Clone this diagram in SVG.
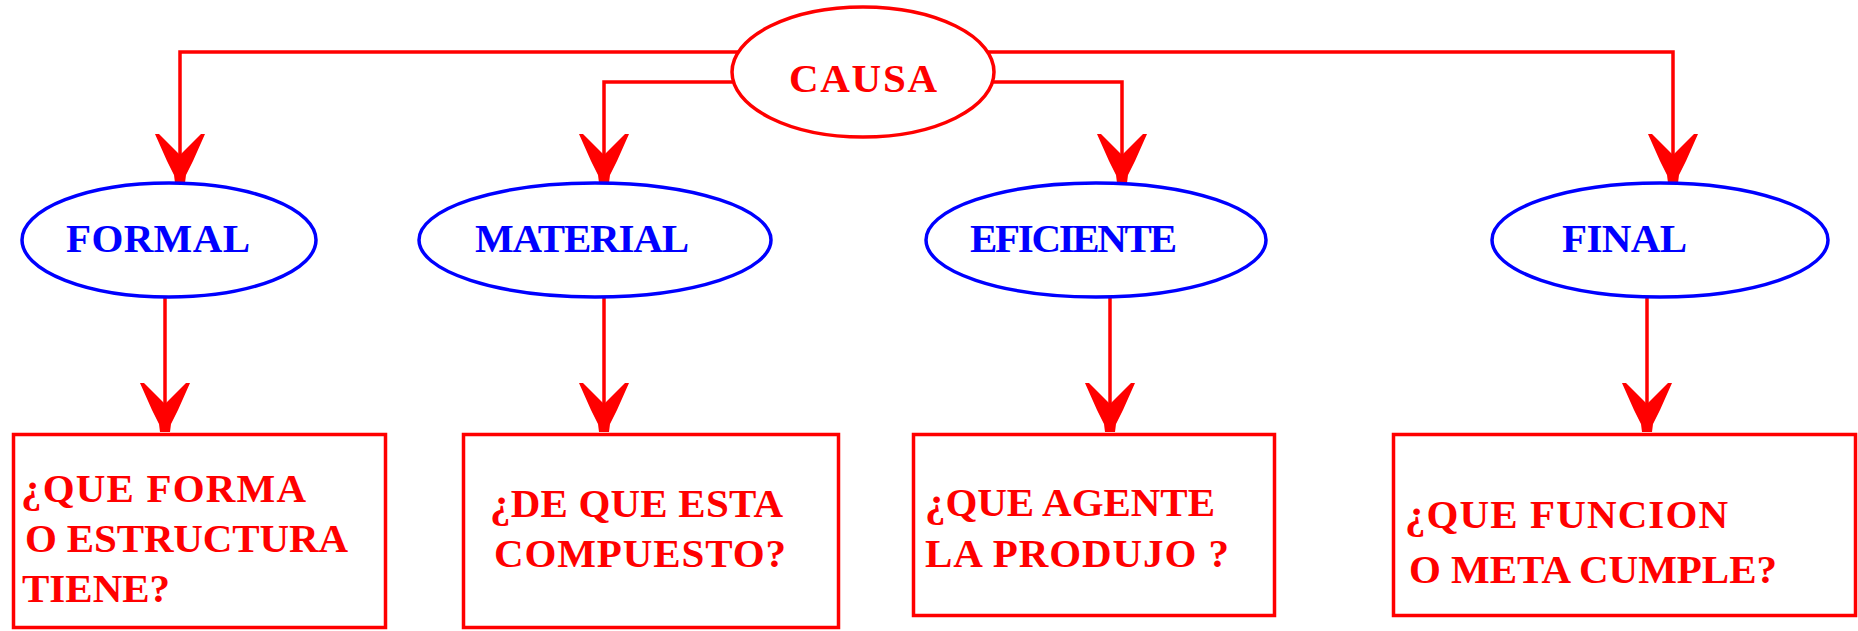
<svg xmlns="http://www.w3.org/2000/svg" xmlns:xlink="http://www.w3.org/1999/xlink" width="1858" height="631" viewBox="0 0 1858 631">
<style>
.bg{fill:#ffffff}
.conn{fill:none;stroke:#ff0000;stroke-width:3.5}
.ah{fill:#ff0000}
.ell-r{fill:#ffffff;stroke:#ff0000;stroke-width:3.5}
.ell-b{fill:#ffffff;stroke:#0000ff;stroke-width:3.5}
.box{fill:#ffffff;stroke:#ff0000;stroke-width:3.5}
.t{font-family:"Liberation Serif","Times New Roman",serif;font-weight:bold;font-size:41px}
.tr{fill:#ff0000}
.tb{fill:#0000ff}
</style>
<defs>
<path id="ah" d="M-25,-49 L-21,-49 L0,-28 L21,-49 L25,-49 L13,-22 L6,-8 L5,0 L-5,0 L-6,-8 L-13,-22 Z"/>
</defs>
<rect class="bg" x="0" y="0" width="1858" height="631"/>
<g id="connectors">
<path class="conn" d="M180,183 V52 H863"/>
<path class="conn" d="M1673,183 V52 H863"/>
<path class="conn" d="M604,183 V82 H863"/>
<path class="conn" d="M1122,183 V82 H863"/>
<path class="conn" d="M165,297 V432"/>
<path class="conn" d="M604,297 V432"/>
<path class="conn" d="M1110,297 V432"/>
<path class="conn" d="M1647,297 V432"/>
<use class="ah" xlink:href="#ah" x="180" y="183"/>
<use class="ah" xlink:href="#ah" x="604" y="183"/>
<use class="ah" xlink:href="#ah" x="1122" y="183"/>
<use class="ah" xlink:href="#ah" x="1673" y="183"/>
<use class="ah" xlink:href="#ah" x="165" y="432"/>
<use class="ah" xlink:href="#ah" x="604" y="432"/>
<use class="ah" xlink:href="#ah" x="1110" y="432"/>
<use class="ah" xlink:href="#ah" x="1647" y="432"/>
</g>
<g id="causa">
<ellipse class="ell-r" cx="863" cy="72" rx="131" ry="65"/>
<text class="t tr" x="789" y="92" textLength="148" lengthAdjust="spacing">CAUSA</text>
</g>
<g id="formal">
<ellipse class="ell-b" cx="169" cy="240" rx="147" ry="57"/>
<text class="t tb" x="66" y="252" textLength="184" lengthAdjust="spacing">FORMAL</text>
</g>
<g id="material">
<ellipse class="ell-b" cx="595" cy="240" rx="176" ry="57"/>
<text class="t tb" x="475" y="252" textLength="214" lengthAdjust="spacing">MATERIAL</text>
</g>
<g id="eficiente">
<ellipse class="ell-b" cx="1096" cy="240" rx="170" ry="57"/>
<text class="t tb" x="970" y="252" textLength="207" lengthAdjust="spacing">EFICIENTE</text>
</g>
<g id="final">
<ellipse class="ell-b" cx="1660" cy="240" rx="168" ry="57"/>
<text class="t tb" x="1562" y="252" textLength="125" lengthAdjust="spacing">FINAL</text>
</g>
<g id="box-formal">
<rect class="box" x="13.5" y="434.5" width="372" height="193"/>
<text class="t tr" x="21" y="502" textLength="285" lengthAdjust="spacing">¿QUE FORMA</text>
<text class="t tr" x="25" y="552" textLength="323" lengthAdjust="spacing">O ESTRUCTURA</text>
<text class="t tr" x="22" y="602">TIENE?</text>
</g>
<g id="box-material">
<rect class="box" x="463.5" y="434.5" width="375" height="193"/>
<text class="t tr" x="490" y="517" textLength="293" lengthAdjust="spacing">¿DE QUE ESTA</text>
<text class="t tr" x="494" y="567" textLength="292" lengthAdjust="spacing">COMPUESTO?</text>
</g>
<g id="box-eficiente">
<rect class="box" x="913.5" y="434.5" width="361" height="181"/>
<text class="t tr" x="925" y="516" textLength="290" lengthAdjust="spacing">¿QUE AGENTE</text>
<text class="t tr" x="925" y="567" textLength="304" lengthAdjust="spacing">LA PRODUJO ?</text>
</g>
<g id="box-final">
<rect class="box" x="1393.5" y="434.5" width="462" height="181"/>
<text class="t tr" x="1405" y="528" textLength="323" lengthAdjust="spacing">¿QUE FUNCION</text>
<text class="t tr" x="1409" y="583" textLength="368" lengthAdjust="spacing">O META CUMPLE?</text>
</g>
</svg>
